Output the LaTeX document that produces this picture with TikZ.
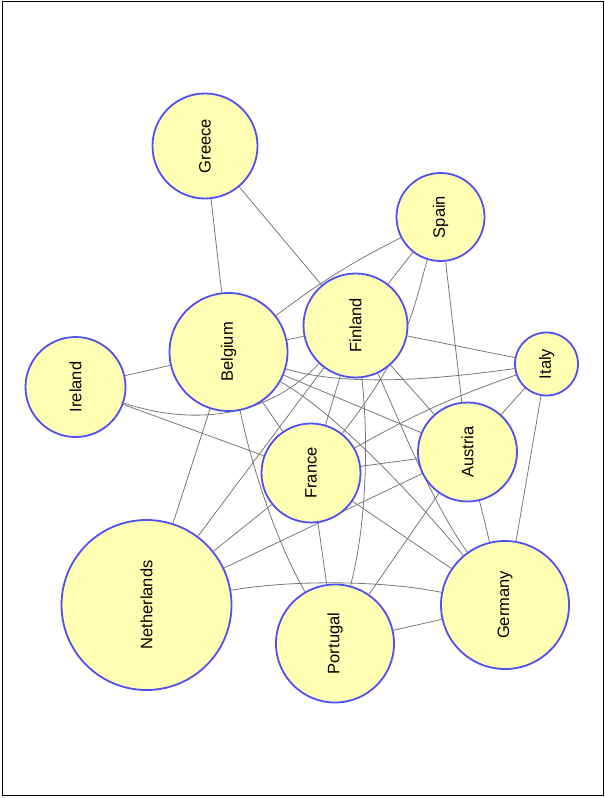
\documentclass[tikz,border=0pt]{standalone}
\usepackage{fontspec}
\setmainfont{Liberation Sans}
\usetikzlibrary{backgrounds}
\definecolor{nodefill}{RGB}{255,255,180}
\definecolor{nodeline}{RGB}{80,80,240}
\definecolor{edgegray}{RGB}{120,120,120}

\begin{document}
\begin{tikzpicture}[x=1pt,y=-1pt,
    country/.style={circle,draw=nodeline,fill=nodefill,line width=1.8pt,inner sep=0pt,rotate=90,font=\fontsize{16.5}{18}\selectfont},
    link/.style={draw=edgegray,line width=0.8pt}]
  \useasboundingbox (0,0) rectangle (605,798);
  \draw[line width=1pt] (2.5,1) rectangle (603.5,795); % Frame round the graph

  % Place the countries
  \node[country,minimum size=105pt] (greece)      at (205,146)   {Greece};
  \node[country,minimum size=88pt]  (spain)       at (440.5,217) {Spain};
  \node[country,minimum size=104pt] (finland)     at (355.5,325.5) {Finland};
  \node[country,minimum size=118pt] (belgium)     at (228.5,352) {Belgium};
  \node[country,minimum size=100pt] (ireland)     at (75.5,387)  {Ireland};
  \node[country,minimum size=63pt]  (italy)       at (546.5,364) {Italy};
  \node[country,minimum size=99pt]  (austria)     at (467.5,452) {Austria};
  \node[country,minimum size=99pt]  (france)      at (311,473)   {France};
  \node[country,minimum size=170pt] (netherlands) at (146.5,605) {Netherlands};
  \node[country,minimum size=118pt] (portugal)    at (335,643.5) {Portugal};
  \node[country,minimum size=128pt] (germany)     at (505,605)   {Germany};

  % Links behind the circles
  \begin{pgfonlayer}{background}
    \draw[link] (greece) -- (belgium);
    \draw[link] (greece) -- (finland);
    \draw[link] (spain) to[bend right=5] (belgium);
    \draw[link] (spain) -- (finland);
    \draw[link] (spain) .. controls (415,300) and (412,345) .. (france); % hugs Finland
    \draw[link] (spain) -- (austria);
    \draw[link] (belgium) -- (finland);
    \draw[link] (ireland) -- (belgium);
    \draw[link] (ireland) .. controls (190,425) and (265,420) .. (finland); % under Belgium
    \draw[link] (ireland) -- (france);
    \draw[link] (belgium) .. controls (340,385) and (420,382) .. (italy); % under Finland
    \draw[link] (finland) -- (italy);
    \draw[link] (italy) to[bend right=5] (france);
    \draw[link] (italy) -- (austria);
    \draw[link] (italy) -- (germany);
    \draw[link] (belgium) -- (austria);
    \draw[link] (belgium) .. controls (330,410) and (400,480) .. (germany);
    \draw[link] (belgium) -- (france);
    \draw[link] (belgium) .. controls (250,460) and (275,540) .. (portugal); % round France
    \draw[link] (belgium) -- (netherlands);
    \draw[link] (finland) -- (netherlands);
    \draw[link] (finland) -- (france);
    \draw[link] (finland) .. controls (368,430) and (368,520) .. (portugal);
    \draw[link] (finland) -- (austria);
    \draw[link] (finland) .. controls (395,410) and (430,500) .. (germany); % round Austria
    \draw[link] (france) -- (austria);
    \draw[link] (france) -- (netherlands);
    \draw[link] (france) -- (germany);
    \draw[link] (france) -- (portugal);
    \draw[link] (netherlands) -- (austria);
    \draw[link] (netherlands) .. controls (290,580) and (380,580) .. (germany); % over Portugal
    \draw[link] (austria) -- (germany);
    \draw[link] (austria) -- (portugal);
    \draw[link] (portugal) -- (germany);
  \end{pgfonlayer}
\end{tikzpicture}
\end{document}
